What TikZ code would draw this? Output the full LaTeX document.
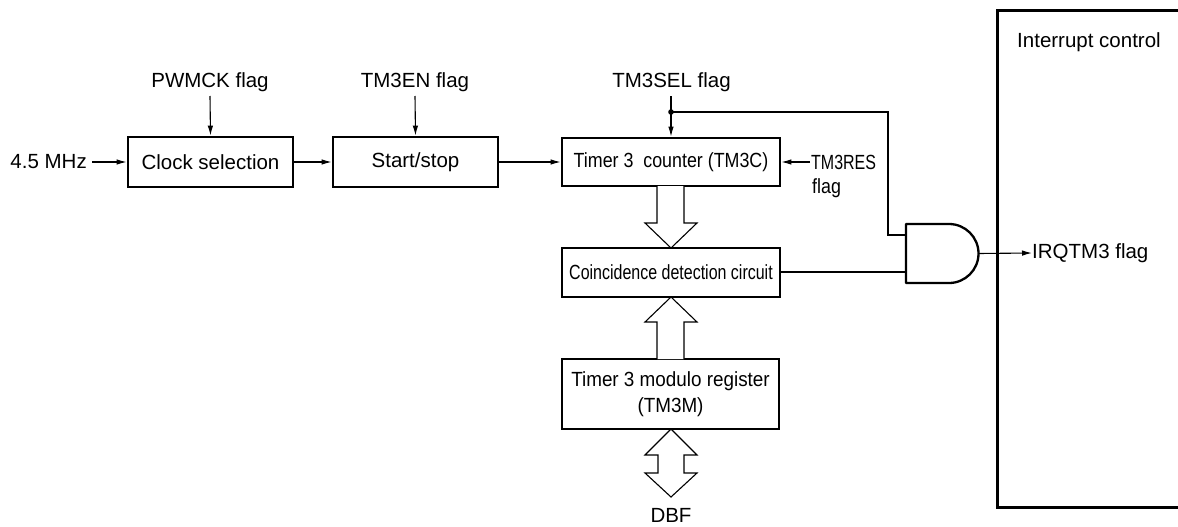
\documentclass[tikz,border=0pt]{standalone}
\usepackage{fontspec}
\setmainfont{Liberation Sans}
\newfontfamily\narrowA[FakeStretch=0.87]{Liberation Sans}
\newfontfamily\narrowB[FakeStretch=0.78]{Liberation Sans}
\newfontfamily\narrowC[FakeStretch=0.92]{Liberation Sans}
\usetikzlibrary{arrows.meta}
\tikzset{
  blk/.style={draw, line width=2.8pt, rectangle, inner sep=0pt, font=\fontsize{20.5}{26}\selectfont},
  lbl/.style={inner sep=0pt, font=\fontsize{20.5}{26}\selectfont},
  sig/.style={line width=1.1pt, -{Latex[length=10pt,width=5.5pt]}},
  wire/.style={line width=1.1pt},
  hollow/.style={line width=1.1pt, fill=white, line join=miter},
}
\begin{document}
\begin{tikzpicture}[x=1pt,y=-1pt]
\useasboundingbox (0,0) rectangle (1178,527);
% blocks
\node[blk, minimum width=165pt, minimum height=50pt] (clk) at (210.5,162) {Clock selection};
\node[blk, minimum width=165pt, minimum height=50pt] (ss) at (415.5,162) {Start/stop};
\node[blk, minimum width=218pt, minimum height=48pt, font=\narrowA\fontsize{20.5}{26}\selectfont] (tc) at (671,162) {Timer 3\ \ counter (TM3C)};
\node[blk, minimum width=218pt, minimum height=49pt, font=\narrowB\fontsize{20.5}{26}\selectfont] (coin) at (671,272.5) {Coincidence detection circuit};
\node[blk, minimum width=217pt, minimum height=70pt, align=center, font=\narrowC\fontsize{20.5}{26}\selectfont] (mod) at (670.5,394) {Timer 3 modulo register\\(TM3M)};
% interrupt control box (open to the right)
\draw[line width=3pt] (1190,11) -- (997,11) -- (997,507) -- (1190,507);
\node[lbl, anchor=west] (ic) at (1017,42) {Interrupt control};
% labels
\node[lbl] (pwm) at (210,82) {PWMCK flag};
\node[lbl] (en) at (415,82) {TM3EN flag};
\node[lbl] (sel) at (671.5,82) {TM3SEL flag};
\node[lbl, anchor=east] (mhz) at (87,162) {4.5 MHz};
\node[lbl, anchor=west, font=\narrowB\fontsize{20.5}{26}\selectfont] (rs1) at (811,162) {TM3RES};
\node[lbl, anchor=west, font=\narrowA\fontsize{20.5}{26}\selectfont] (rs2) at (812,188) {flag};
\node[lbl, anchor=west] (irq) at (1032,253) {IRQTM3 flag};
\node[lbl] (dbf) at (671,515) {DBF};
% horizontal signal arrows
\draw[sig] ([xshift=5pt]mhz.east) -- (clk.west);
\draw[sig] (clk.east) -- (ss.west);
\draw[sig] (ss.east) -- (tc.west);
\draw[sig] ([xshift=-1pt]rs1.west) -- (tc.east);
% flag arrows
\draw[sig] (210,96) -- (clk.north);
\draw[sig] (415,96) -- (ss.north);
\coordinate (dot) at (671,112);
\draw[sig] (671,96) -- (tc.north);
\fill (dot) circle (2.8pt);
% AND gate
\coordinate (in1) at (906,235);
\coordinate (in2) at (906,272);
\coordinate (gout) at (978.5,253.5);
\draw[line width=2.3pt, line join=round] (906,224) -- (949,224) arc[start angle=-90, end angle=90, radius=29.5] -- (906,283) -- cycle;
\draw[wire] (dot) -- (888,112) -- (888,235) -- (in1);
\draw[wire] (coin.east |- in2) -- (in2);
\draw[sig] (gout) -- (irq.west);
% hollow bus arrows
\draw[hollow] (657,186) -- (657,223) -- (645,223) -- (671,248) -- (697,223) -- (684,223) -- (684,186);
\draw[hollow] (657,359) -- (657,322) -- (645,322) -- (671,297) -- (697,322) -- (684,322) -- (684,359);
\draw[hollow] (671,429) -- (697,455) -- (684,455) -- (684,473) -- (697,473) -- (671,497) -- (645,473) -- (658,473) -- (658,455) -- (645,455) -- cycle;
\end{tikzpicture}
\end{document}
